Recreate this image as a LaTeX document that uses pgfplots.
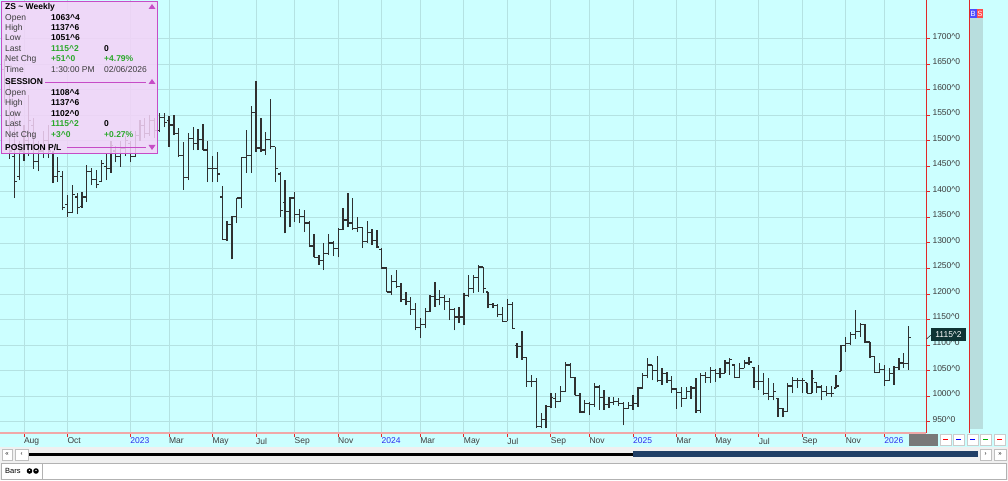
\documentclass[border=0pt]{standalone}
\usepackage{pgfplots}
\pgfplotsset{compat=1.18}
\usepackage{pgfplotstable}
\usepackage{fontspec}
\setmainfont{Liberation Sans}

\definecolor{bgcyan}{HTML}{CCFFFF}
\definecolor{gridcol}{HTML}{B4E2E2}
\definecolor{barcol}{HTML}{303030}
\definecolor{axred}{HTML}{E02828}
\definecolor{axpink}{HTML}{F0A8A8}
\definecolor{yearblue}{HTML}{2A2AF0}
\definecolor{boxpink}{HTML}{F4D2F8}
\definecolor{boxedge}{HTML}{C64CC6}
\definecolor{valgreen}{HTML}{2CA82C}
\definecolor{labgray}{HTML}{3C3C3C}
\definecolor{navy}{HTML}{203F66}
\definecolor{panel}{HTML}{F0F0F0}
\definecolor{bscol}{HTML}{B8DEDE}
\definecolor{tagdark}{HTML}{0E3434}

% weekly OHLC, k = weeks from 5 Aug 2022
\pgfplotstableread{
k O H L C
-4 1640 1660 1575 1590
-3 1600 1620 1465 1480
-2 1470 1560 1388 1420
-1 1430 1500 1423 1480
0 1480 1530 1460 1500
1 1500 1590 1470 1540
2 1530 1545 1445 1460
3 1460 1500 1440 1480
4 1480 1520 1466 1500
5 1500 1530 1466 1480
6 1475 1480 1417 1430
7 1430 1468 1420 1440
8 1430 1440 1364 1370
9 1375 1394 1351 1360
10 1360 1413 1358 1395
11 1390 1398 1356 1370
12 1372 1400 1368 1390
13 1390 1453 1380 1440
14 1440 1447 1413 1425
15 1425 1443 1407 1415
16 1420 1462 1419 1455
17 1450 1476 1423 1445
18 1445 1500 1437 1490
19 1480 1490 1458 1470
20 1470 1500 1449 1485
21 1485 1510 1470 1500
22 1495 1500 1458 1470
23 1470 1520 1468 1510
24 1510 1540 1500 1530
25 1530 1545 1505 1515
26 1515 1550 1510 1540
27 1540 1545 1505 1520
28 1520 1554 1517 1545
29 1545 1554 1527 1535
30 1540 1548 1488 1531
31 1531 1550 1511 1514
32 1514 1525 1468 1472
33 1472 1498 1404 1429
34 1429 1515 1423 1505
35 1505 1527 1482 1494
36 1494 1523 1482 1502
37 1502 1533 1482 1482
38 1482 1499 1419 1445
39 1445 1470 1419 1445
40 1445 1478 1419 1435
41 1390 1411 1306 1306
42 1306 1343 1304 1337
43 1337 1352 1268 1352
44 1352 1388 1339 1388
45 1388 1468 1368 1468
46 1468 1521 1437 1472
47 1472 1568 1437 1556
48 1556 1617 1478 1486
49 1486 1544 1478 1482
50 1482 1517 1472 1502
51 1502 1582 1484 1488
52 1488 1488 1419 1445
53 1435 1439 1351 1364
54 1380 1423 1319 1362
55 1362 1390 1331 1388
56 1388 1400 1341 1356
57 1356 1366 1339 1352
58 1352 1364 1321 1339
59 1339 1343 1292 1294
60 1294 1317 1272 1272
61 1272 1276 1257 1266
62 1266 1300 1247 1280
63 1280 1317 1277 1300
64 1300 1304 1274 1290
65 1290 1329 1272 1327
66 1327 1368 1325 1345
67 1345 1397 1331 1339
68 1339 1388 1325 1329
69 1329 1351 1321 1330
70 1330 1331 1290 1302
71 1302 1343 1300 1320
72 1320 1327 1296 1305
73 1305 1325 1290 1292
74 1288 1290 1249 1251
75 1251 1253 1204 1204
76 1204 1237 1198 1225
77 1225 1247 1212 1215
78 1215 1221 1184 1190
79 1190 1204 1178 1186
80 1186 1194 1159 1170
81 1170 1182 1129 1135
82 1135 1153 1114 1140
83 1140 1172 1133 1165
84 1165 1198 1165 1195
85 1195 1223 1175 1190
86 1190 1208 1178 1193
87 1193 1198 1169 1186
88 1186 1192 1149 1170
89 1170 1172 1129 1155
90 1155 1174 1143 1155
91 1155 1202 1139 1198
92 1198 1237 1194 1210
93 1210 1237 1202 1232
94 1232 1257 1204 1253
95 1253 1253 1202 1210
96 1204 1204 1172 1180
97 1180 1182 1172 1178
98 1178 1180 1155 1160
99 1160 1174 1145 1147
100 1147 1190 1147 1180
101 1180 1184 1133 1133
102 1100 1104 1075 1098
103 1098 1127 1071 1075
104 1075 1075 1018 1028
105 1028 1041 1018 1028
106 1028 1035 937 940
107 940 967 937 955
108 955 983 937 979
109 979 1006 977 998
110 995 1006 977 990
111 990 1020 988 1010
112 1010 1067 1008 1061
113 1061 1065 1035 1037
114 1037 1037 1002 1002
115 1002 1006 967 969
116 969 992 967 985
117 985 988 963 983
118 983 1026 979 1018
119 1018 1022 973 998
120 998 1012 973 983
121 983 998 977 988
122 988 998 983 990
123 990 996 980 985
124 985 988 943 975
125 975 988 975 982
126 982 1002 973 985
127 985 1018 979 1016
128 1016 1045 1016 1041
129 1041 1075 1035 1061
130 1061 1061 1031 1051
131 1051 1079 1028 1031
132 1031 1055 1022 1045
133 1045 1047 1026 1030
134 1030 1039 1006 1014
135 1014 1016 975 1008
136 1008 1018 979 996
137 996 1018 995 1010
138 1010 1020 995 1016
139 1016 1035 967 972
140 972 1045 967 1041
141 1041 1047 1026 1037
142 1037 1057 1026 1051
143 1051 1053 1028 1045
144 1045 1055 1035 1045
145 1045 1071 1045 1065
146 1065 1075 1041 1071
147 1061 1061 1035 1037
148 1037 1065 1035 1055
149 1055 1071 1055 1065
150 1065 1077 1061 1067
151 1057 1057 1016 1028
152 1028 1061 1012 1028
153 1028 1045 1002 1006
154 1006 1035 992 1000
155 1000 1026 992 1010
156 996 996 959 975
157 975 977 959 970
158 970 1026 970 1020
159 1020 1037 1006 1030
160 1030 1035 1016 1030
161 1030 1035 1006 1030
162 1026 1026 1006 1006
163 1006 1051 1006 1035
164 1026 1026 1006 1018
165 1018 1022 992 1010
166 1010 1020 1000 1006
167 1006 1020 998 1006
168 1016 1041 1016 1020
169 1049 1100 1049 1100
170 1100 1116 1087 1103
171 1103 1126 1100 1120
172 1120 1169 1112 1126
173 1126 1143 1116 1141
174 1141 1141 1104 1106
175 1106 1106 1075 1077
176 1077 1077 1045 1047
177 1047 1065 1045 1053
178 1053 1061 1020 1030
179 1030 1055 1030 1045
180 1045 1059 1022 1057
181 1057 1075 1051 1065
182 1065 1085 1055 1064
183 1063.5 1137.75 1051.75 1115.25
}\ohlc

\newcommand\boxfont{\fontsize{8.5}{10}\selectfont}

\begin{document}
\begin{tikzpicture}[x=1pt,y=1pt]
\useasboundingbox (0,0) rectangle (1008,480);
% chart window backgrounds
\fill[bgcyan] (0,33) rectangle (1008,480);
\fill[panel] (0,0) rectangle (1008,33);

\begin{axis}[
  at={(0pt,47pt)}, anchor=south west,
  width=926pt, height=433pt, scale only axis,
  xmin=-4.965, xmax=186.6, ymin=927.9, ymax=1775.7,
  axis line style={draw=none},
  tick style={axred, line width=1pt},
  major tick length=4pt,
  tick align=outside,
  xtick pos=left, ytick pos=right,
  xticklabel pos=left, yticklabel pos=right,
  grid=major,
  major grid style={gridcol, line width=0.9pt},
  ticklabel style={font=\boxfont, text=labgray},
  xticklabel style={anchor=north west, xshift=-3.5pt, yshift=2.5pt},
  yticklabel style={anchor=west, xshift=-1pt, yshift=2.5pt},
  xtick={0,9,22,30,39,48,56,65,74,82,91,100,109,117,126,135,143,152,161,170,178},
  xticklabels={Aug,Oct,{\color{yearblue}2023},Mar,May,Jul,Sep,Nov,{\color{yearblue}2024},Mar,May,Jul,Sep,Nov,{\color{yearblue}2025},Mar,May,Jul,Sep,Nov,{\color{yearblue}2026}},
  ytick={950,1000,...,1700},
  yticklabels={950\textasciicircum0,1000\textasciicircum0,1050\textasciicircum0,1100\textasciicircum0,1150\textasciicircum0,1200\textasciicircum0,1250\textasciicircum0,1300\textasciicircum0,1350\textasciicircum0,1400\textasciicircum0,1450\textasciicircum0,1500\textasciicircum0,1550\textasciicircum0,1600\textasciicircum0,1650\textasciicircum0,1700\textasciicircum0},
]
% high-low range
\addplot[barcol, line width=1.3pt, quiver={u=0, v=\thisrow{H}-\thisrow{L}}] table[x=k, y=L] {\ohlc};
% open tick (left)
\addplot[barcol, line width=1.1pt, quiver={u=-0.5, v=0}] table[x=k, y=O] {\ohlc};
% close tick (right)
\addplot[barcol, line width=1.1pt, quiver={u=0.5, v=0}] table[x=k, y=C] {\ohlc};
\end{axis}

% axis frame lines
\draw[axpink, line width=1.6pt] (0,47) -- (926,47);
\draw[axred, line width=1pt] (926.5,47) -- (926.5,480);
\draw[axred, line width=1pt] (969.5,47) -- (969.5,480);

% B/S strip
\fill[bscol] (970,51) rectangle (983,462);
\fill[blue!70!white] (970,462) rectangle (976.5,471);
\fill[red!70!white] (976.5,462) rectangle (983,471);
\node[white, font=\fontsize{7.5}{8}\selectfont, inner sep=0pt] at (973.2,466.5) {B};
\node[white, font=\fontsize{7.5}{8}\selectfont, inner sep=0pt] at (979.8,466.5) {S};

% last price tag
\draw[barcol, line width=0.6pt] (926.5,141) -- (931,145);
\fill[tagdark] (931,139) rectangle (966,152);
\node[white, font=\boxfont, inner sep=0pt] at (948.5,145.5) {1115\textasciicircum2};

% lower right buttons
\fill[gray!95!black] (909,34) rectangle (938,46);
\foreach \bx/\bc in {940/red,953/blue,967/blue,980/green!70!black,994/red}{
  \draw[gray!40, fill=white] (\bx,34.5) rectangle (\bx+11,45.5);
  \draw[\bc, line width=0.8pt] (\bx+3,41) -- (\bx+8,41);
}

% scrollbar
\draw[gray!50, fill=white] (2,20) rectangle (12,31);
\node[font=\fontsize{6}{6}\selectfont, inner sep=0pt] at (7,25.5) {«};
\draw[gray!50, fill=white] (15,20) rectangle (28,31);
\node[font=\fontsize{6}{6}\selectfont, inner sep=0pt] at (21.5,25.5) {‹};
\draw[black, line width=3pt] (29,26) -- (633,26);
\fill[navy] (633,23) rectangle (978,29);
\draw[gray!50, fill=white] (980,20) rectangle (991,31);
\node[font=\fontsize{6}{6}\selectfont, inner sep=0pt] at (985.5,25.5) {›};
\draw[gray!50, fill=white] (994,20) rectangle (1006,31);
\node[font=\fontsize{6}{6}\selectfont, inner sep=0pt] at (1000,25.5) {»};

% status bar
\draw[gray!60, fill=white] (1,1) rectangle (1006,17);
\draw[gray!60] (42,1) -- (42,17);
\node[anchor=west, font=\fontsize{7.5}{8}\selectfont, inner sep=0pt] at (5,9) {Bars};
\fill[black] (29.5,9) circle (2.8);
\fill[black] (36,9) circle (2.8);
\fill[white] (29.5,9.6) circle (0.8);
\fill[white] (36,9.6) circle (0.8);

% quote window
\fill[boxpink, fill opacity=0.86] (1,327) rectangle (157,479);
\draw[boxedge, line width=0.8pt] (1,327) rectangle (157,479);
\begin{scope}[every node/.style={anchor=base west, inner sep=0pt, font=\boxfont}]
\node[font=\boxfont\bfseries] at (5,470) {ZS \textasciitilde\ Weekly};
\node[text=labgray] at (5,459) {Open};
\node[font=\boxfont\bfseries] at (51,459) {1063\textasciicircum4};
\node[text=labgray] at (5,449) {High};
\node[font=\boxfont\bfseries] at (51,449) {1137\textasciicircum6};
\node[text=labgray] at (5,439) {Low};
\node[font=\boxfont\bfseries] at (51,439) {1051\textasciicircum6};
\node[text=labgray] at (5,428) {Last};
\node[font=\boxfont\bfseries, text=valgreen] at (51,428) {1115\textasciicircum2};
\node[font=\boxfont\bfseries] at (104,428) {0};
\node[text=labgray] at (5,418) {Net Chg};
\node[font=\boxfont\bfseries, text=valgreen] at (51,418) {+51\textasciicircum0};
\node[font=\boxfont\bfseries, text=valgreen] at (104,418) {+4.79\%};
\node[text=labgray] at (5,407) {Time};
\node[text=labgray] at (51,407) {1:30:00 PM};
\node[text=labgray] at (104,407) {02/06/2026};
\node[font=\boxfont\bfseries] at (5,395) {SESSION};
\node[text=labgray] at (5,384) {Open};
\node[font=\boxfont\bfseries] at (51,384) {1108\textasciicircum4};
\node[text=labgray] at (5,374) {High};
\node[font=\boxfont\bfseries] at (51,374) {1137\textasciicircum6};
\node[text=labgray] at (5,363) {Low};
\node[font=\boxfont\bfseries] at (51,363) {1102\textasciicircum0};
\node[text=labgray] at (5,353) {Last};
\node[font=\boxfont\bfseries, text=valgreen] at (51,353) {1115\textasciicircum2};
\node[font=\boxfont\bfseries] at (104,353) {0};
\node[text=labgray] at (5,342) {Net Chg};
\node[font=\boxfont\bfseries, text=valgreen] at (51,342) {+3\textasciicircum0};
\node[font=\boxfont\bfseries, text=valgreen] at (104,342) {+0.27\%};
\node[font=\boxfont\bfseries] at (5,330) {POSITION P/L};
\end{scope}
\draw[boxedge, line width=0.8pt] (45,398) -- (146,398);
\draw[boxedge, line width=0.8pt] (67,333) -- (146,333);
\fill[boxedge] (148.5,471) -- (155.5,471) -- (152,476) -- cycle;
\fill[boxedge] (148.5,396) -- (155.5,396) -- (152,401) -- cycle;
\fill[boxedge] (148.5,335) -- (155.5,335) -- (152,330) -- cycle;
\end{tikzpicture}
\end{document}
